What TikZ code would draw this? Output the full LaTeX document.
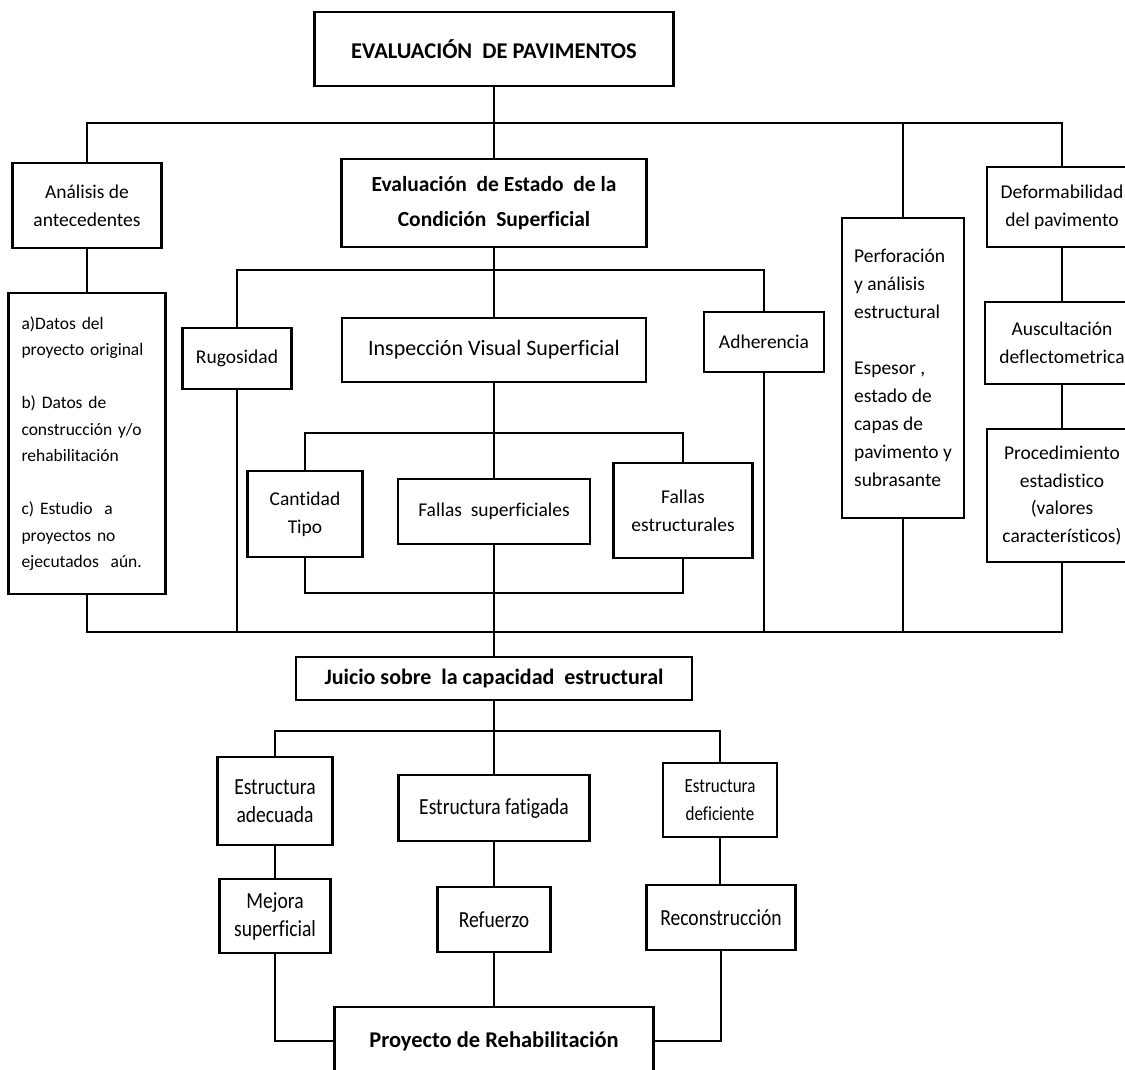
\documentclass[tikz,border=0pt]{standalone}
\usepackage{fontspec}
\setmainfont{Carlito}[Ligatures=NoCommon]
\newfontfamily\condf{Carlito}[FakeStretch=0.85,Ligatures=NoCommon]
\begin{document}
\begin{tikzpicture}[x=1pt,y=-1pt,
  box/.style={draw, rectangle, line width=2.8pt, inner sep=0pt, align=center,
    font=\fontsize{19.5}{28}\selectfont},
  bbox/.style={box, font=\bfseries\fontsize{21.5}{35}\selectfont},
  cbox/.style={box, font=\condf\fontsize{23}{28}\selectfont},
  ln/.style={line width=2.5pt}]
\useasboundingbox[fill=white] (0,0) rectangle (1125,1070);

% ---- level 0
\node[bbox, minimum width=359pt, minimum height=74pt, font=\bfseries\fontsize{22.5}{26}\selectfont] (top) at (494,49) {EVALUACIÓN\ \ DE PAVIMENTOS};

% ---- level 1
\node[box, minimum width=149pt, minimum height=85pt] (ana) at (87,205.5) {Análisis de\\antecedentes};
\node[box, minimum width=157pt, minimum height=301pt, text width=131pt, align=left,
  font=\fontsize{17.5}{26.5}\selectfont] (list) at (87,443.5)
  {a)Datos del\\proyecto original\\[26.5pt]b) Datos de\\construcción y/o\\rehabilitación\\[26.5pt]c) Estudio\ \ a\\proyectos no\\ejecutados\ \ aún.};
\node[bbox, minimum width=305pt, minimum height=88pt] (eval) at (494,203) {Evaluación\ \ de Estado\ \ de la\\Condición\ \ Superficial};
\node[box, minimum width=122pt, minimum height=300pt, align=left] (perf) at (903,368)
  {Perforación\\y análisis\\estructural\\[28pt]Espesor ,\\estado de\\capas de\\pavimento y\\subrasante};
\node[box, minimum width=150pt, minimum height=80pt] (def) at (1062,207) {Deformabilidad\\del pavimento};
\node[box, minimum width=154pt, minimum height=82pt] (aus) at (1062,343) {Auscultación\\deflectometrica};
\node[box, minimum width=150pt, minimum height=133pt, font=\fontsize{19.5}{27.5}\selectfont] (proc) at (1062,495.5) {Procedimiento\\estadistico\\(valores\\característicos)};

% ---- level 2
\node[box, minimum width=109pt, minimum height=61pt] (rug) at (237,358.5) {Rugosidad};
\node[box, minimum width=304pt, minimum height=64pt, font=\fontsize{22}{26}\selectfont] (insp) at (494,350) {Inspección Visual Superficial};
\node[box, minimum width=120pt, minimum height=60pt] (adh) at (764,342) {Adherencia};

% ---- level 3
\node[box, minimum width=115pt, minimum height=86pt] (cant) at (305,514) {Cantidad\\Tipo};
\node[box, minimum width=192pt, minimum height=65pt] (fsup) at (494,511.5) {Fallas\ \ superficiales};
\node[box, minimum width=139pt, minimum height=95pt] (fest) at (683,510.5) {Fallas\\estructurales};

% ---- judgement
\node[box, minimum width=396pt, minimum height=43pt, font=\bfseries\fontsize{22}{26}\selectfont] (juicio) at (494,678.5) {Juicio sobre\ \ la capacidad\ \ estructural};

\node[cbox, minimum width=115pt, minimum height=88pt] (adec) at (275,801) {Estructura\\adecuada};
\node[cbox, minimum width=191pt, minimum height=66pt] (fat) at (494,808) {Estructura fatigada};
\node[cbox, minimum width=114pt, minimum height=74pt, font=\condf\fontsize{20}{28}\selectfont] (defi) at (720,800) {Estructura\\deficiente};
\node[cbox, minimum width=111pt, minimum height=74pt] (mej) at (275,916) {Mejora\\superficial};
\node[cbox, minimum width=113pt, minimum height=65pt] (ref) at (494,919.5) {Refuerzo};
\node[cbox, minimum width=149pt, minimum height=65pt] (rec) at (721,917.5) {Reconstrucción};
\node[box, minimum width=319pt, minimum height=68pt, font=\bfseries\fontsize{22.5}{26}\selectfont] (proy) at (494,1041) {Proyecto de Rehabilitación};

% ---- coordinates for bus lines
\coordinate (h1L) at (87,123);   \coordinate (h1R) at (1062,123);
\coordinate (h2L) at (87,632);   \coordinate (h2R) at (1062,632);
\coordinate (h3L) at (237,270);  \coordinate (h3R) at (764,270);
\coordinate (h4L) at (305,433);  \coordinate (h4R) at (683,433);
\coordinate (h5L) at (305,593);  \coordinate (h5R) at (683,593);
\coordinate (h6L) at (275,731);  \coordinate (h6R) at (720,731);

% ---- connectors
\draw[ln] (top.south) -- (top.south |- h1L);
\draw[ln] (ana.north) -- (h1L) -- (h1R) -- (def.north);
\draw[ln] (eval.north) -- (eval.north |- h1L);
\draw[ln] (perf.north) -- (perf.north |- h1L);
\draw[ln] (ana.south) -- (list.north);
\draw[ln] (list.south) -- (h2L) -- (h2R) -- (proc.south);
\draw[ln] (def.south) -- (aus.north);
\draw[ln] (aus.south) -- (proc.north);
\draw[ln] (perf.south) -- (perf.south |- h2L);

\draw[ln] (eval.south) -- (insp.north);
\draw[ln] (rug.north) -- (h3L) -- (h3R) -- (adh.north);
\draw[ln] (rug.south) -- (rug.south |- h2L);
\draw[ln] (adh.south) -- (adh.south |- h2L);

\draw[ln] (insp.south) -- (fsup.north);
\draw[ln] (cant.north) -- (h4L) -- (h4R) -- (fest.north);
\draw[ln] (cant.south) -- (h5L) -- (h5R) -- (fest.south);
\draw[ln] (fsup.south) -- (juicio.north);

\draw[ln] (juicio.south) -- (fat.north);
\draw[ln] (adec.north) -- (h6L) -- (h6R) -- (defi.north);
\draw[ln] (adec.south) -- (mej.north);
\draw[ln] (fat.south) -- (ref.north);
\draw[ln] (defi.south) -- (defi.south |- rec.north);
\draw[ln] (mej.south) |- (proy.west);
\draw[ln] (rec.south) |- (proy.east);
\draw[ln] (ref.south) -- (proy.north);
\end{tikzpicture}
\end{document}
